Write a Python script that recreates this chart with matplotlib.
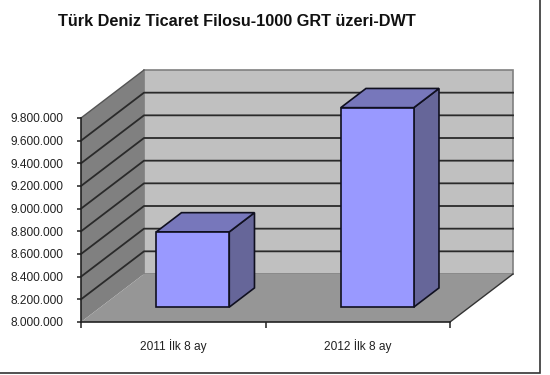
import matplotlib
matplotlib.use("Agg")
import matplotlib.pyplot as plt
from matplotlib.patches import Polygon, Rectangle

categories = ["2011 İlk 8 ay", "2012 İlk 8 ay"]
values = [8664000, 9760000]
y_ticks = [8000000, 8200000, 8400000, 8600000, 8800000, 9000000, 9200000, 9400000, 9600000, 9800000]
y_labels = ["8.000.000", "8.200.000", "8.400.000", "8.600.000", "8.800.000",
            "9.000.000", "9.200.000", "9.400.000", "9.600.000", "9.800.000"]
title = "Türk Deniz Ticaret Filosu-1000 GRT üzeri-DWT"

W, H = 550, 375
plt.rcParams['font.family'] = ['Liberation Sans', 'DejaVu Sans']

fig = plt.figure(figsize=(W / 100, H / 100), dpi=100, facecolor="white")
ax = fig.add_axes([81 / W, 1 - 322 / H, 369 / W, 204 / H])
ax.set_xlim(0, 2)
ax.set_ylim(8000000, 9800000)
ax.patch.set_visible(False)

# depth of the fake 3d box, in data units
depth_x = 63 / 369 * 2
depth_y = 48 / 204 * 1800000


def proj(x, v, d):
    return (x + d * depth_x, v + d * depth_y)


def face(points, color, z, edge="none", lw=0):
    ax.add_patch(Polygon([proj(*p) for p in points], closed=True, facecolor=color,
                         edgecolor=edge, linewidth=lw, zorder=z, clip_on=False))


vmin, vmax = y_ticks[0], y_ticks[-1]

# back wall, side wall, floor
face([(0, vmin, 1), (2, vmin, 1), (2, vmax, 1), (0, vmax, 1)], "#c0c0c0", 1, "#808080", 1.2)
face([(0, vmin, 0), (0, vmin, 1), (0, vmax, 1), (0, vmax, 0)], "#808080", 1)
face([(0, vmin, 0), (2, vmin, 0), (2, vmin, 1), (0, vmin, 1)], "#969696", 1)

# gridlines on walls
for t in y_ticks[1:-1]:
    xs, ys = zip(proj(0, t, 0), proj(0, t, 1), proj(2, t, 1))
    ax.plot(xs, ys, color="#2a2a2a", lw=1.3, zorder=2, clip_on=False)
xs, ys = zip(proj(0, vmax, 0), proj(0, vmax, 1))
ax.plot(xs, ys, color="#555555", lw=1, zorder=2, clip_on=False)
xs, ys = zip(proj(2, vmin, 0), proj(2, vmin, 1))
ax.plot(xs, ys, color="#333333", lw=1, zorder=2, clip_on=False)

# bars
bar_w = 73 / 184.5
d0, d1 = 0.31, 0.71
for i, v in enumerate(values):
    x0 = i + 0.5 - bar_w / 2
    x1 = x0 + bar_w
    face([(x0, vmin, d0), (x1, vmin, d0), (x1, v, d0), (x0, v, d0)], "#9999ff", 4, "#101020", 1.2)
    face([(x1, vmin, d0), (x1, vmin, d1), (x1, v, d1), (x1, v, d0)], "#666699", 3, "#101020", 1.2)
    face([(x0, v, d0), (x1, v, d0), (x1, v, d1), (x0, v, d1)], "#7777bb", 3, "#101020", 1.2)

# axes
for s in ["top", "right"]:
    ax.spines[s].set_visible(False)
for s in ["left", "bottom"]:
    ax.spines[s].set_color("#222222")
    ax.spines[s].set_linewidth(1.2)
    ax.spines[s].set_zorder(5)
ax.set_yticks(y_ticks)
ax.set_yticklabels(y_labels, fontsize=8.6, color="#222222")
ax.tick_params(axis="y", direction="out", length=3, width=1.1, color="#222222", pad=9.5)
ax.set_xticks([0, 1, 2])
ax.set_xticklabels([])
ax.set_xticks([0.5, 1.5], minor=True)
ax.set_xticklabels(categories, minor=True, fontsize=8.6, color="#222222")
ax.tick_params(axis="x", which="major", direction="out", length=4, width=1.1, color="#222222")
ax.tick_params(axis="x", which="minor", length=0, pad=12)

fig.text(237 / W, 1 - 21 / H, title, fontsize=11.7, fontweight="bold", color="#111111",
         ha="center", va="center")

# outer frame of the chart
fig.add_artist(Rectangle((-2 / W, 1 / H * 2.5), 542 / W, 1, transform=fig.transFigure,
                         fill=False, edgecolor="#333333", linewidth=1.2))

fig.savefig("out.png", dpi=100, facecolor="white")
